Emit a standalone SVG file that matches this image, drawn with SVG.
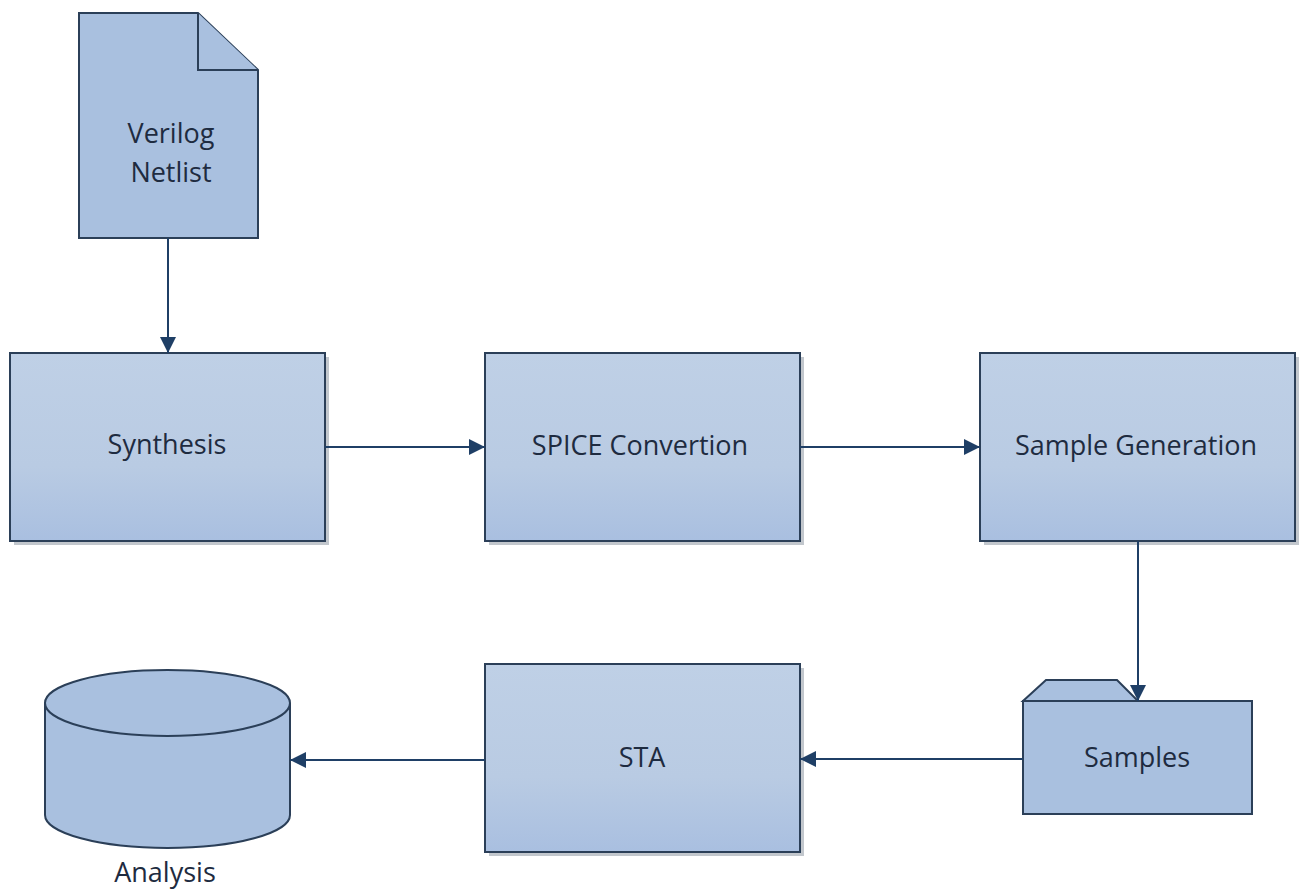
<svg xmlns="http://www.w3.org/2000/svg" width="1301" height="892" viewBox="0 0 1301 892">
<defs>
<linearGradient id="g" x1="0" y1="0" x2="0" y2="1">
<stop offset="0" stop-color="#bfd0e6"/>
<stop offset="0.6" stop-color="#b9cbe3"/>
<stop offset="1" stop-color="#a9bfe0"/>
</linearGradient>
<marker id="arr" viewBox="0 0 10 10" refX="10" refY="5" markerWidth="16" markerHeight="16" markerUnits="userSpaceOnUse" orient="auto">
<path d="M0,0 L10,5 L0,10 z" fill="#1f3f66"/>
</marker>
</defs>
<style>
.box{fill:url(#g);stroke:#2b3f58;stroke-width:2}
.shape{fill:#a9c0df;stroke:#2b3f58;stroke-width:2}
.sh{fill:#9aa2ab;opacity:0.6}
.t{font-family:"Open Sans","Noto Sans",sans-serif;font-size:27px;fill:#1e2b40;text-anchor:middle}
.c{stroke:#1f3f66;stroke-width:2;fill:none;marker-end:url(#arr)}
</style>
<rect width="1301" height="892" fill="#ffffff"/>
<g id="verilog">
<path class="shape" d="M79,13 L198,13 L258,70 L258,238 L79,238 Z"/>
<path class="shape" d="M198,13 L198,70 L258,70"/>
<text class="t" x="171" y="143">Verilog</text>
<text class="t" x="171" y="182">Netlist</text>
</g>
<g id="synthesis">
<rect class="sh" x="14" y="357" width="315" height="188"/>
<rect class="box" x="10" y="353" width="315" height="188"/>
<text class="t" x="167" y="454">Synthesis</text>
</g>
<g id="spice">
<rect class="sh" x="489" y="357" width="315" height="188"/>
<rect class="box" x="485" y="353" width="315" height="188"/>
<text class="t" x="640" y="455">SPICE Convertion</text>
</g>
<g id="samplegen">
<rect class="sh" x="984" y="357" width="315" height="188"/>
<rect class="box" x="980" y="353" width="315" height="188"/>
<text class="t" x="1136" y="455">Sample Generation</text>
</g>
<g id="sta">
<rect class="sh" x="489" y="668" width="315" height="188"/>
<rect class="box" x="485" y="664" width="315" height="188"/>
<text class="t" x="642" y="767">STA</text>
</g>
<g id="samples">
<path class="shape" d="M1023,701 L1046,680 L1117,680 L1138,701 Z"/>
<rect class="shape" x="1023" y="701" width="229" height="113"/>
<text class="t" x="1137" y="767">Samples</text>
</g>
<g id="analysis">
<path class="shape" d="M45,703 L45,815 A122.5,33 0 0 0 290,815 L290,703"/>
<ellipse class="shape" cx="167.5" cy="703" rx="122.5" ry="33"/>
<text class="t" x="165" y="882">Analysis</text>
</g>
<g id="connectors">
<line class="c" x1="168" y1="238" x2="168" y2="353"/>
<line class="c" x1="325" y1="447" x2="485" y2="447"/>
<line class="c" x1="800" y1="447" x2="980" y2="447"/>
<line class="c" x1="1138" y1="541" x2="1138" y2="701"/>
<line class="c" x1="1023" y1="759" x2="800" y2="759"/>
<line class="c" x1="485" y1="760" x2="290" y2="760"/>
</g>
</svg>
